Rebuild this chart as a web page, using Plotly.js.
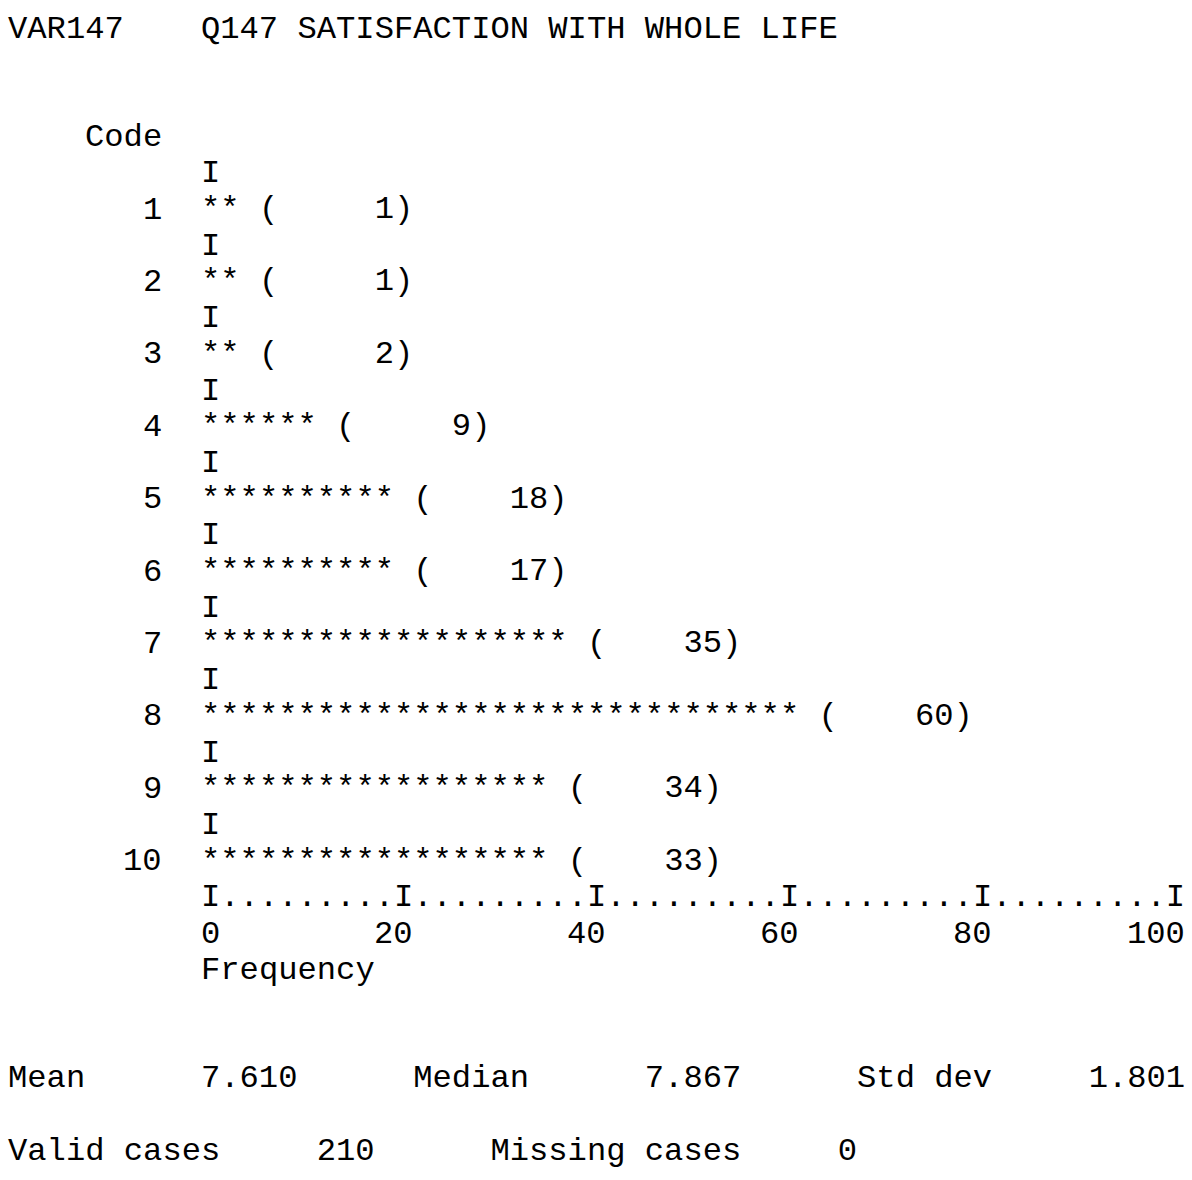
<!DOCTYPE html>
<html><head><meta charset="utf-8">
<script src="https://cdn.plot.ly/plotly-3.0.1.min.js"></script>
<style>html,body{margin:0;padding:0;background:#fff}#chart{width:1192px;height:1180px}</style>
</head><body><div id="chart"></div>
<script>
// ---- data ----
const codes = [1, 2, 3, 4, 5, 6, 7, 8, 9, 10];
const counts = [1, 1, 2, 9, 18, 17, 35, 60, 34, 33];
const starCounts = [2, 2, 2, 6, 10, 10, 19, 31, 18, 18];
const freqTicks = [0, 20, 40, 60, 80, 100];
const varName = 'VAR147';
const varLabel = 'Q147 SATISFACTION WITH WHOLE LIFE';
const statNames = ['Mean', 'Median', 'Std dev'];
const statValues = ['7.610', '7.867', '1.801'];
const caseNames = ['Valid cases', 'Missing cases'];
const caseValues = [210, 0];

// ---- character grid geometry (layout only) ----
const CW = 19.3, X0 = 8, RH = 36.2, Y0 = 29, W = 1192, H = 1180;
const FS = CW / 0.6;
const FONT = {family: '"Courier New", "Liberation Mono", monospace', size: FS, color: '#000'};
const NB = s => String(s).replace(/ /g, '\u00A0');
// x axis in frequency units: stars begin at column 10, one column = 2 units
const colToF = c => 2 * (c - 10);
const pxToF = p => colToF((p - X0) / CW);
// y axis in code units: code k sits on text row 3 + 2k
const rowToY = r => (r - 3) / 2;
const pxToY = p => rowToY((p - Y0) / RH);

const ann = [];
function put(col, row, text, anchor) {
  ann.push({x: colToF(col), y: rowToY(row), xref: 'x', yref: 'y', text: NB(text),
    showarrow: false, xanchor: anchor || 'left', yanchor: 'middle',
    font: FONT, borderpad: 0, borderwidth: 0, align: 'left'});
}

put(0, 0, varName + '    ' + varLabel);
put(4, 3, 'Code');
codes.forEach((c, i) => {
  put(10, 4 + 2 * i, 'I');
  put(8, 5 + 2 * i, String(c), 'right');
});
// frequency axis line built from the ticks
let axisLine = 'I';
for (let i = 1; i < freqTicks.length; i++) {
  axisLine += '.'.repeat((freqTicks[i] - freqTicks[i - 1]) / 2 - 1) + 'I';
}
put(10, 24, axisLine);
freqTicks.forEach(v => {
  ann.push({x: v + 2, y: rowToY(25), xref: 'x', yref: 'y', text: String(v), showarrow: false,
    xanchor: 'right', yanchor: 'middle', font: FONT, borderpad: 0, borderwidth: 0});
});
put(10, 26, 'Frequency');
const statLine = statNames[0].padEnd(10) + statValues[0].padEnd(11) +
  statNames[1].padEnd(12) + statValues[1].padEnd(11) +
  statNames[2].padEnd(12) + statValues[2];
put(0, 29, statLine);
const caseLine = caseNames[0].padEnd(16) + String(caseValues[0]).padEnd(9) +
  caseNames[1].padEnd(18) + String(caseValues[1]);
put(0, 31, caseLine);

// ---- the histogram bars: star strings anchored at frequency 0 ----
const barTrace = {
  type: 'scatter', mode: 'text',
  x: codes.map(() => 0),
  y: codes,
  text: codes.map((c, i) => NB('*'.repeat(starCounts[i]) + ' (' + String(counts[i]).padStart(6) + ')')),
  textposition: 'middle right',
  textfont: FONT,
  hoverinfo: 'skip', cliponaxis: false, showlegend: false
};

const layout = {
  width: W, height: H,
  margin: {l: 0, r: 0, t: 0, b: 0, pad: 0},
  paper_bgcolor: '#fff', plot_bgcolor: '#fff',
  showlegend: false,
  xaxis: {range: [pxToF(0), pxToF(W)], visible: false, fixedrange: true},
  yaxis: {range: [pxToY(H), pxToY(0)], visible: false, fixedrange: true},
  annotations: ann
};

Plotly.newPlot('chart', [barTrace], layout, {staticPlot: true, displayModeBar: false});
</script>
</body></html>
